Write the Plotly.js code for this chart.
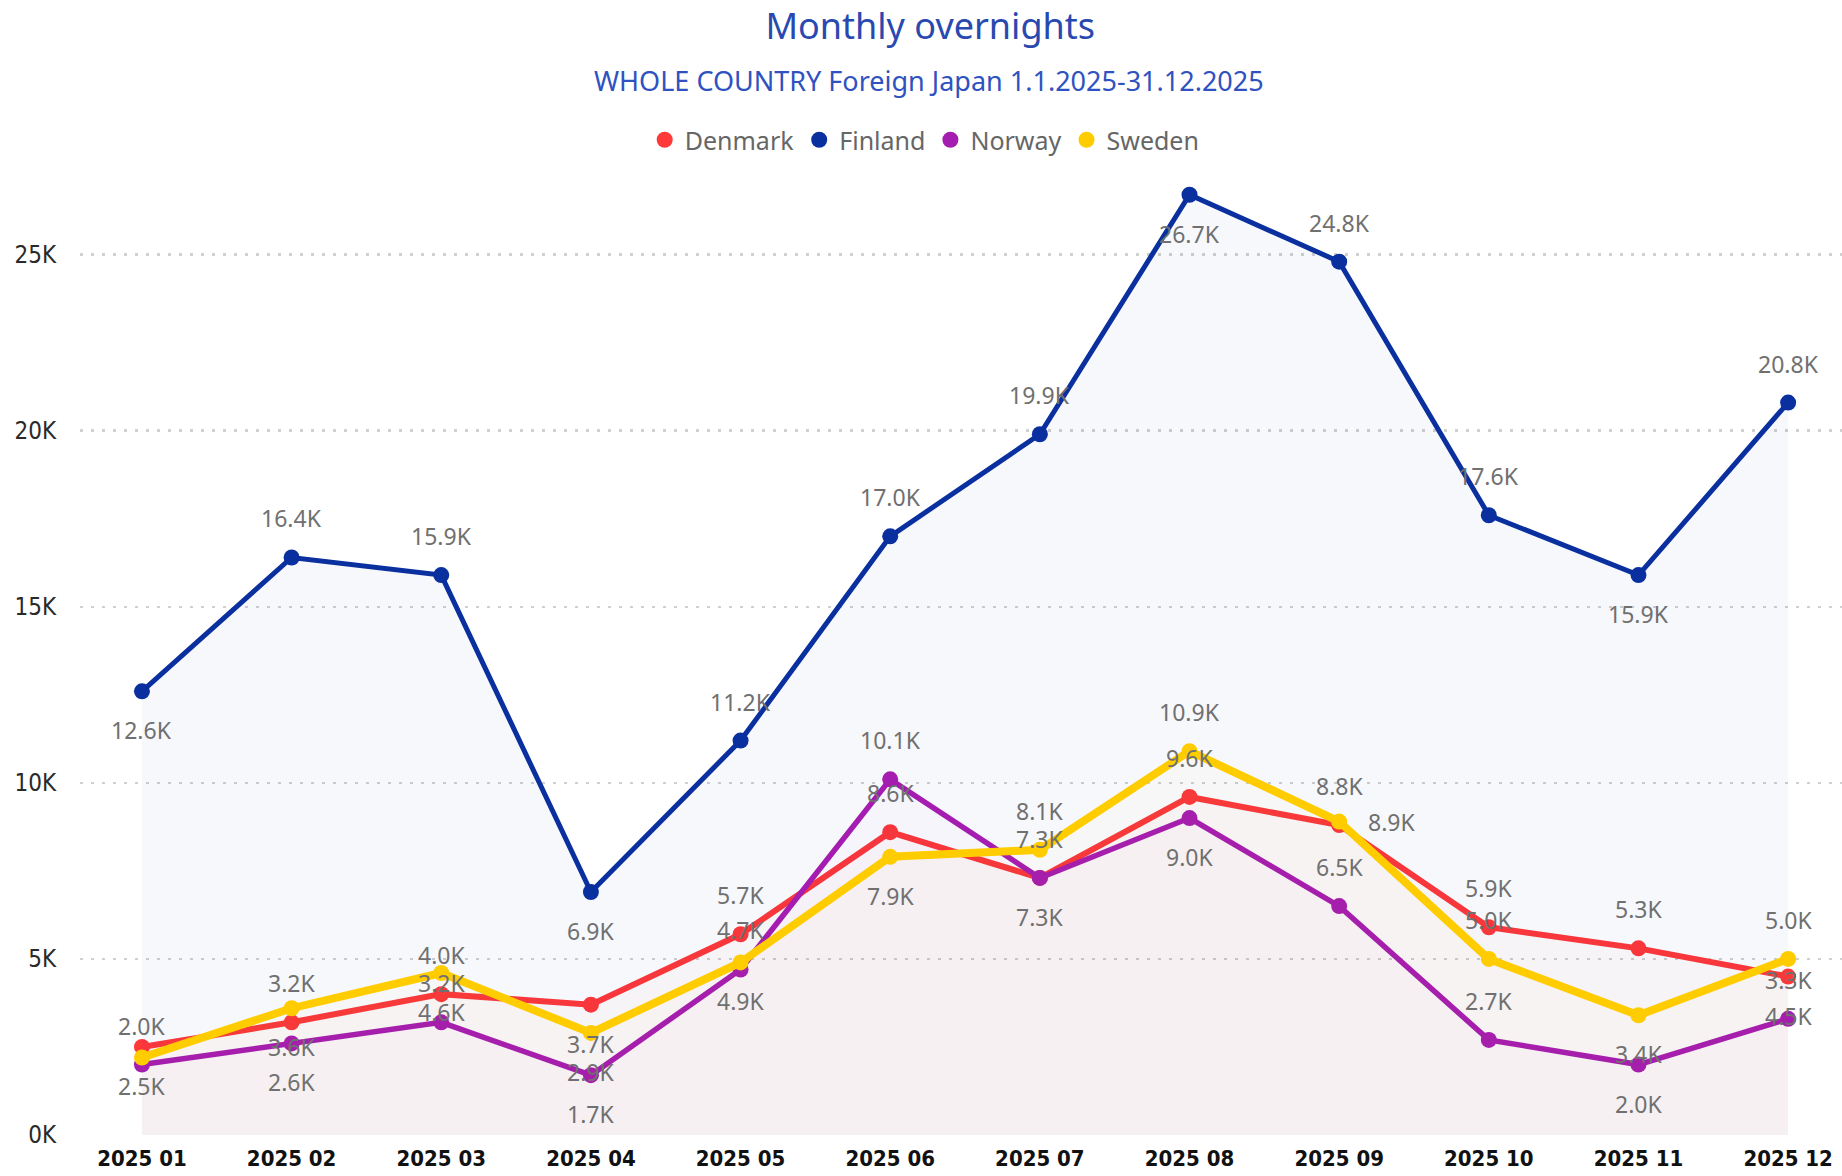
<!DOCTYPE html>
<html>
<head>
<meta charset="utf-8">
<script src="https://cdn.plot.ly/plotly-3.0.1.min.js"></script>
<style>
html, body { margin: 0; padding: 0; background: #ffffff; }
#chart { width: 1842px; height: 1176px; }
</style>
</head>
<body>
<div id="chart"></div>
<script>
// ---- data ----
const months = ['2025 01','2025 02','2025 03','2025 04','2025 05','2025 06','2025 07','2025 08','2025 09','2025 10','2025 11','2025 12'];
const seriesNames = ['Denmark', 'Finland', 'Norway', 'Sweden'];
const denmark = [2500, 3200, 4000, 3700, 5700, 8600, 7300, 9600, 8800, 5900, 5300, 4500];
const finland = [12600, 16400, 15900, 6900, 11200, 17000, 19900, 26700, 24800, 17600, 15900, 20800];
const norway  = [2000, 2600, 3200, 1700, 4700, 10100, 7300, 9000, 6500, 2700, 2000, 3300];
const sweden  = [2200, 3600, 4600, 2900, 4900, 7900, 8100, 10900, 8900, 5000, 3400, 5000];
const yTickValues = [0, 5000, 10000, 15000, 20000, 25000];
const yTickLabels = ['0K', '5K', '10K', '15K', '20K', '25K'];
const titleText = 'Monthly overnights';
const subtitleText = 'WHOLE COUNTRY Foreign Japan 1.1.2025-31.12.2025';

// ---- styles ----
const colors = { Denmark: '#ff3838', Finland: '#0a2f9e', Norway: '#a51cb0', Sweden: '#ffcc00' };
const fills  = { Denmark: 'rgba(255,56,56,0.018)', Finland: 'rgba(10,47,158,0.03)', Norway: 'rgba(165,28,176,0.012)', Sweden: 'rgba(255,204,0,0.02)' };
const widths = { Denmark: 6, Finland: 5, Norway: 5.5, Sweden: 8 };
// label placement per point: 'a' above, 'b' below, 'r' right, '' hidden
const labelPlace = {
  Denmark: ['b','a','a','b','a','a','b','a','a','a','a','b'],
  Finland: ['b','a','a','b','a','a','a','b','a','a','b','a'],
  Norway:  ['a','b','a','b','a','a','a','b','a','a','b','a'],
  Sweden:  ['', 'b','b','b','b','b','a','a','r','a','b','a']
};
const seriesValues = { Denmark: denmark, Finland: finland, Norway: norway, Sweden: sweden };

const fmtK = v => (v / 1000).toFixed(1) + 'K';

const traces = [];
const annotations = [];
seriesNames.forEach(name => {
  const vals = seriesValues[name];
  traces.push({
    type: 'scatter',
    mode: 'lines+markers',
    x: months,
    y: vals,
    name: name,
    showlegend: false,
    line: { color: colors[name], width: widths[name] },
    marker: { color: colors[name], size: 16 },
    fill: 'tozeroy',
    fillcolor: fills[name],
    hovertemplate: name + ': %{y}<extra></extra>'
  });
  vals.forEach((v, i) => {
    const p = labelPlace[name][i];
    if (!p) return;
    annotations.push({
      x: months[i], y: v, xref: 'x', yref: 'y',
      text: fmtK(v), showarrow: false,
      xshift: p === 'r' ? 52 : 0,
      yshift: p === 'a' ? 39 : (p === 'b' ? -39 : 0),
      font: { family: 'Segoe UI, Noto Sans, sans-serif', size: 23, color: '#707070' }
    });
  });
});
// subtitle
annotations.push({
  text: subtitleText, showarrow: false,
  xref: 'paper', yref: 'paper', x: 0.4818, y: 1.069, xanchor: 'center', yanchor: 'middle',
  font: { family: 'Segoe UI, Noto Sans, sans-serif', size: 27, color: '#2f52c0' }
});
// legend-only entries (markers only, as in the original legend)
seriesNames.forEach(name => {
  traces.push({
    type: 'scatter', mode: 'markers', x: [null], y: [null], name: name,
    marker: { color: colors[name], size: 18 }, hoverinfo: 'skip', showlegend: true
  });
});

const layout = {
  width: 1842, height: 1176,
  paper_bgcolor: '#ffffff', plot_bgcolor: '#ffffff',
  margin: { l: 80, r: 0, t: 149, b: 41, pad: 0, autoexpand: false },
  title: {
    text: titleText,
    x: 0.505, xanchor: 'center', xref: 'container',
    y: 1 - 26 / 1176, yanchor: 'middle', yref: 'container',
    font: { family: 'Segoe UI, Noto Sans, sans-serif', size: 36, color: '#2a49b0' }
  },
  showlegend: true,
  legend: {
    orientation: 'h', x: 0.502, xanchor: 'center', xref: 'container',
    y: 1 - 140 / 1176, yanchor: 'middle', yref: 'container',
    font: { family: 'Segoe UI, Noto Sans, sans-serif', size: 25, color: '#666666' },
    itemwidth: 30, traceorder: 'normal', bgcolor: 'rgba(0,0,0,0)'
  },
  xaxis: {
    type: 'category',
    range: [-0.414, 11.36],
    showgrid: false, zeroline: false, showline: false,
    ticks: 'outside', ticklen: 4, tickcolor: 'rgba(0,0,0,0)',
    tickfont: { family: 'DejaVu Sans Condensed, Liberation Sans Narrow, sans-serif', size: 22, color: '#111111', weight: 'bold' },
    fixedrange: true, automargin: false
  },
  yaxis: {
    range: [0, 28000],
    tickvals: yTickValues, ticktext: yTickLabels,
    showgrid: true, gridcolor: '#d0d0d0', gridwidth: 2.5, griddash: '3px,8px',
    zeroline: false, showline: false,
    ticks: 'outside', ticklen: 18, tickcolor: 'rgba(0,0,0,0)',
    tickfont: { family: 'DejaVu Sans Condensed, Liberation Sans Narrow, sans-serif', size: 24, color: '#2a2a2a' },
    fixedrange: true, automargin: false
  },
  annotations: annotations
};

Plotly.newPlot('chart', traces, layout, { displayModeBar: false, staticPlot: true });
</script>
</body>
</html>
